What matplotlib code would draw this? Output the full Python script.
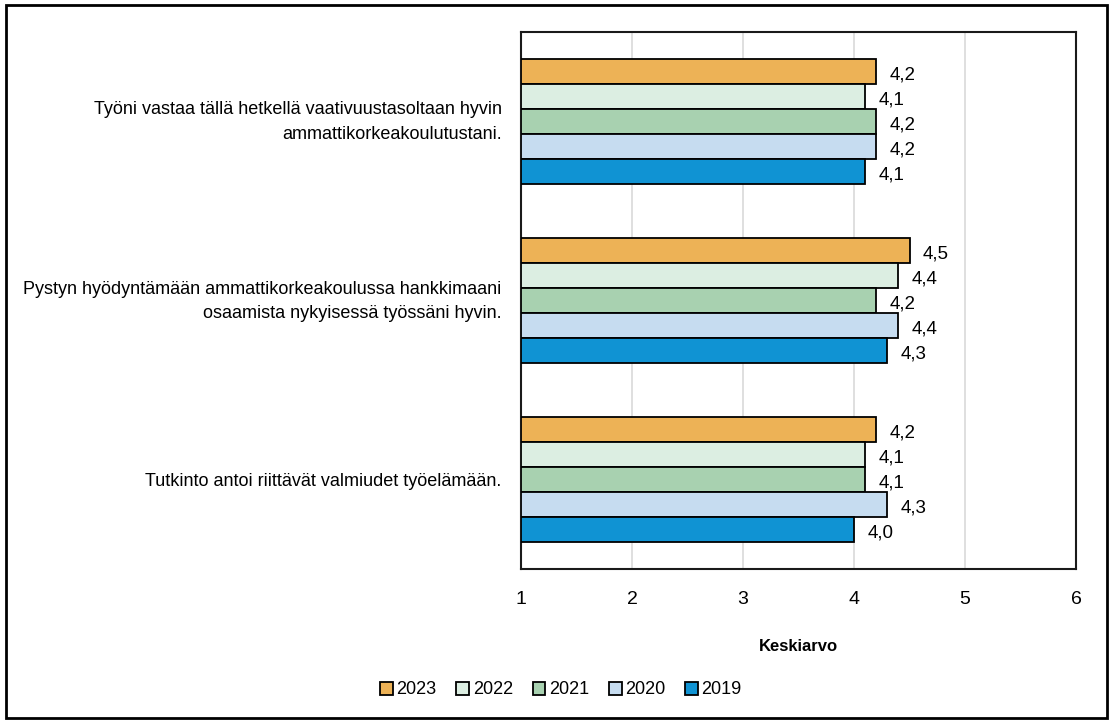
import matplotlib
matplotlib.use("Agg")
import matplotlib.pyplot as plt
from matplotlib.patches import Rectangle, Patch
from matplotlib.transforms import ScaledTranslation
import numpy as np

plt.rcParams['font.family'] = ['Liberation Sans Narrow', 'Liberation Sans', 'DejaVu Sans']

categories = [
    "Työni vastaa tällä hetkellä vaativuustasoltaan hyvin\nammattikorkeakoulutustani.",
    "Pystyn hyödyntämään ammattikorkeakoulussa hankkimaani\nosaamista nykyisessä työssäni hyvin.",
    "Tutkinto antoi riittävät valmiudet työelämään.",
]
years = ["2023", "2022", "2021", "2020", "2019"]
values = {
    "2023": [4.2, 4.5, 4.2],
    "2022": [4.1, 4.4, 4.1],
    "2021": [4.2, 4.2, 4.1],
    "2020": [4.2, 4.4, 4.3],
    "2019": [4.1, 4.3, 4.0],
}
colors = {
    "2023": "#EDB256",
    "2022": "#DCEEE2",
    "2021": "#A8D1B0",
    "2020": "#C6DCF0",
    "2019": "#1093D3",
}
x_ticks = [1, 2, 3, 4, 5, 6]

fig = plt.figure(figsize=(11.09, 7.2), dpi=100)
ax = fig.add_axes([521 / 1109, 1 - 569 / 720, (1076 - 521) / 1109, (569 - 32) / 720])

n = len(years)
group_w = 0.7
bar_h = group_w / n
centers = np.arange(len(categories))
for i, yr in enumerate(years):
    offs = -group_w / 2 + bar_h * (i + 0.5)
    ys = centers + offs
    vals = values[yr]
    ax.barh(ys, np.array(vals) - 1, left=1, height=bar_h, color=colors[yr],
            edgecolor="black", linewidth=1.3, zorder=3)
    for y, v in zip(ys, vals):
        ax.annotate(f"{v:.1f}".replace(".", ","), xy=(v, y), xytext=(9.5, -2.5),
                    textcoords="offset points", ha="left", va="center",
                    fontsize=13.5, zorder=4)

ax.set_xlim(1, 6)
ax.set_ylim(len(categories) - 0.5, -0.5)
ax.set_xticks(x_ticks)
ax.set_xticklabels([str(t) for t in x_ticks], fontsize=14)
ax.set_yticks(centers)
ax.set_yticklabels(categories, fontsize=13, ha="right", linespacing=1.55)
ax.tick_params(axis="both", length=0)
ax.tick_params(axis="x", pad=16)
ax.tick_params(axis="y", pad=14)
# two-line category labels sit slightly above the group centre
lift = ScaledTranslation(0, 5 / 100, fig.dpi_scale_trans)
for lbl in ax.get_yticklabels():
    if "\n" in lbl.get_text():
        lbl.set_transform(lbl.get_transform() + lift)
ax.grid(axis="x", color="#D9D9D9", linewidth=1.2, zorder=0)
ax.set_axisbelow(True)
for s in ax.spines.values():
    s.set_color("#1a1a1a")
    s.set_linewidth(1.5)

ax.set_xlabel("Keskiarvo", fontsize=12, fontweight="bold", labelpad=22)

handles = [Patch(facecolor=colors[y], edgecolor="black", linewidth=1.3, label=y) for y in years]
fig.legend(handles=handles, loc="center", bbox_to_anchor=(561 / 1109, 1 - 690 / 720),
           ncol=5, frameon=False, fontsize=13, handlelength=0.7, handleheight=0.7,
           handletextpad=0.2, columnspacing=1.1)

# outer frame
fig.patches.append(Rectangle((6 / 1109, 2 / 720), 1101 / 1109, 713 / 720,
                             transform=fig.transFigure, fill=False,
                             edgecolor="black", linewidth=2))

fig.savefig("out.png", dpi=100)
